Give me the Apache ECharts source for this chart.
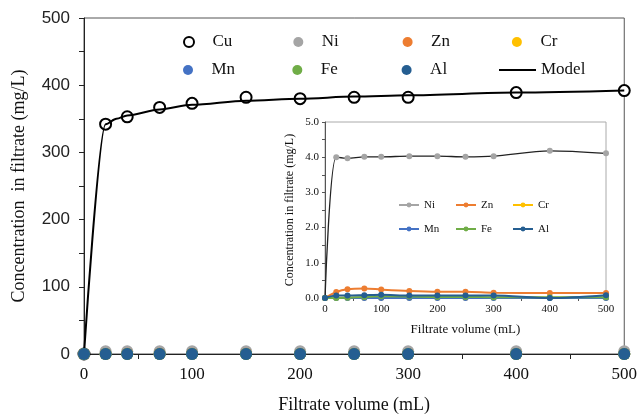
<!DOCTYPE html>
<html>
<head>
<meta charset="utf-8">
<script src="https://cdn.jsdelivr.net/npm/echarts@6/dist/echarts.min.js"></script>
<style>
html,body{margin:0;padding:0;background:#fff;}
#chart{width:640px;height:419px;}
</style>
</head>
<body>
<div id="chart"></div>
<script>
const volumes = [0, 20, 40, 70, 100, 150, 200, 250, 300, 400, 500];
const cuVals = [0, 342, 353, 367, 373, 382, 380, 382, 382, 389, 392];
const modelVolumes = [0, 20, 30, 40, 70, 100, 150, 200, 250, 300, 400, 500];
const modelVals = [0, 342, 350, 355, 364, 371, 377, 380, 383, 385, 389, 392];
const niVals = [0, 4.00, 3.97, 4.01, 4.01, 4.03, 4.03, 4.01, 4.03, 4.18, 4.11];
const znVals = [0, 0.17, 0.25, 0.27, 0.24, 0.20, 0.18, 0.18, 0.15, 0.14, 0.14];
const crVals = [0, 0.01, 0.01, 0.01, 0.01, 0.01, 0.01, 0.01, 0.01, 0.01, 0.01];
const mnVals = [0, 0.00, 0.00, 0.00, 0.00, 0.00, 0.00, 0.00, 0.00, 0.00, 0.00];
const feVals = [0, 0.00, 0.01, 0.03, 0.05, 0.04, 0.03, 0.03, 0.02, 0.02, 0.02];
const alVals = [0, 0.07, 0.07, 0.08, 0.09, 0.07, 0.07, 0.07, 0.07, 0.00, 0.08];
const metalNames = ['Ni', 'Zn', 'Cr', 'Mn', 'Fe', 'Al'];
const metalColors = ['#A5A5A5', '#ED7D31', '#FFC000', '#4472C4', '#70AD47', '#255E91'];
const metalVals = [niVals, znVals, crVals, mnVals, feVals, alVals];
const mainXTicks = [0, 100, 200, 300, 400, 500];
const mainYTicks = [0, 100, 200, 300, 400, 500];
const insetYTicks = [0, 1, 2, 3, 4, 5];

const SERIF = '"Liberation Serif", "Times New Roman", serif';
const SANS = '"Liberation Sans", Arial, sans-serif';

function pairs(xs, ys) { return xs.map((x, i) => [x, ys[i]]); }

const series = [];
series.push({
  name: 'Cu', type: 'scatter', xAxisIndex: 0, yAxisIndex: 0,
  data: pairs(volumes, cuVals), symbol: 'circle', symbolSize: 11, clip: false,
  itemStyle: { color: '#fff', borderColor: '#000', borderWidth: 2, opacity: 1 }, z: 3
});
series.push({
  name: 'Model', type: 'line', xAxisIndex: 0, yAxisIndex: 0,
  data: pairs(modelVolumes, modelVals), symbol: 'none', smooth: 0.3, smoothMonotone: 'x',
  lineStyle: { color: '#000', width: 2 }, itemStyle: { color: '#000' }, z: 4
});
metalNames.forEach((n, i) => {
  series.push({
    name: n, type: 'scatter', xAxisIndex: 0, yAxisIndex: 0,
    data: pairs(volumes, metalVals[i]), symbol: 'circle', symbolSize: 12, clip: false,
    itemStyle: { color: metalColors[i], opacity: 1 }, z: 5 + i
  });
});
metalNames.forEach((n, i) => {
  series.push({
    name: n + ' inset', type: 'line', xAxisIndex: 1, yAxisIndex: 1,
    data: pairs(volumes, metalVals[i]), symbol: 'circle', symbolSize: 6, showSymbol: true,
    clip: false, smooth: 0.3,
    lineStyle: { color: i === 0 ? '#222' : metalColors[i], width: i === 0 ? 1.3 : 2 },
    itemStyle: { color: metalColors[i] }, z: 20 + i
  });
});

function legendRow(names, top, left, opts) {
  return Object.assign({
    orient: 'horizontal', left: left, top: top,
    data: names, selectedMode: false
  }, opts);
}

const mainLegendOpts = {
  itemWidth: 37, itemHeight: 10, itemGap: 20.8,
  textStyle: { fontFamily: SERIF, fontSize: 17, color: '#111', width: 60, lineHeight: 20 }
};
const insetLegendOpts = {
  itemWidth: 20, itemHeight: 6, itemGap: 7,
  formatter: n => n.split(' ')[0],
  textStyle: { fontFamily: SERIF, fontSize: 11, color: '#111', width: 24, lineHeight: 14 }
};

const option = {
  animation: false,
  backgroundColor: '#fff',
  grid: [
    { left: 84, top: 18, width: 541, height: 338, show: true, borderColor: '#555', borderWidth: 1, backgroundColor: 'transparent' },
    { left: 325, top: 122, width: 281, height: 176, show: true, borderColor: '#aaa', borderWidth: 1, backgroundColor: '#fff', z: 10 }
  ],
  xAxis: [
    {
      type: 'value', gridIndex: 0, min: 0, max: 500, interval: 100,
      name: 'Filtrate volume (mL)', nameLocation: 'middle', nameGap: 42,
      nameTextStyle: { fontFamily: SERIF, fontSize: 18, color: '#111' },
      axisLine: { show: true, lineStyle: { color: '#222', width: 1 } },
      axisTick: { show: true, length: 5, lineStyle: { color: '#222' } },
      minorTick: { show: true, splitNumber: 2, length: 5, lineStyle: { color: '#222' } },
      splitLine: { show: false },
      axisLabel: { fontFamily: SERIF, fontSize: 17, color: '#111', margin: 12,
        formatter: v => mainXTicks.includes(v) ? String(v) : '' }
    },
    {
      type: 'value', gridIndex: 1, min: 0, max: 500, interval: 100,
      name: 'Filtrate volume (mL)', nameLocation: 'middle', nameGap: 25,
      nameTextStyle: { fontFamily: SERIF, fontSize: 13, color: '#111' },
      axisLine: { show: true, lineStyle: { color: '#555', width: 1 } },
      axisTick: { show: true, length: 3, lineStyle: { color: '#555' } },
      minorTick: { show: true, splitNumber: 2, length: 3, lineStyle: { color: '#555' } },
      splitLine: { show: false },
      axisLabel: { fontFamily: SERIF, fontSize: 11, color: '#111', margin: 6 },
      z: 11
    }
  ],
  yAxis: [
    {
      type: 'value', gridIndex: 0, min: 0, max: 500, interval: 100,
      name: 'Concentration  in filtrate (mg/L)', nameLocation: 'middle', nameGap: 56,
      nameTextStyle: { fontFamily: SERIF, fontSize: 18, color: '#111' },
      axisLine: { show: true, lineStyle: { color: '#222', width: 1 } },
      axisTick: { show: true, length: 5, lineStyle: { color: '#222' } },
      minorTick: { show: true, splitNumber: 2, length: 5, lineStyle: { color: '#222' } },
      splitLine: { show: false },
      axisLabel: { fontFamily: SANS, fontSize: 17, color: '#222', margin: 14,
        formatter: v => mainYTicks.includes(v) ? String(v) : '' }
    },
    {
      type: 'value', gridIndex: 1, min: 0, max: 5, interval: 1,
      name: 'Concentration in filtrate (mg/L)', nameLocation: 'middle', nameGap: 29,
      nameTextStyle: { fontFamily: SERIF, fontSize: 12, color: '#111' },
      axisLine: { show: true, lineStyle: { color: '#555', width: 1 } },
      axisTick: { show: true, length: 3, lineStyle: { color: '#555' } },
      minorTick: { show: true, splitNumber: 2, length: 3, lineStyle: { color: '#555' } },
      splitLine: { show: false },
      axisLabel: { fontFamily: SERIF, fontSize: 11, color: '#111', margin: 6,
        formatter: v => insetYTicks.includes(v) ? v.toFixed(1) : '' },
      z: 11
    }
  ],
  legend: [
    legendRow(['Cu', 'Ni', 'Zn', 'Cr'], 27, 178, mainLegendOpts),
    legendRow(['Mn', 'Fe', 'Al'], 55, 178, mainLegendOpts),
    legendRow([{ name: 'Model', itemStyle: { opacity: 0 } }], 55, 493, mainLegendOpts),
    legendRow([
      { name: 'Ni inset', itemStyle: { color: '#A5A5A5' }, lineStyle: { color: '#A5A5A5', width: 2 } },
      'Zn inset', 'Cr inset'], 193, 393, Object.assign({ z: 30 }, insetLegendOpts)),
    legendRow(['Mn inset', 'Fe inset', 'Al inset'], 217, 393, Object.assign({ z: 30 }, insetLegendOpts))
  ],
  series: series
};

const chart = echarts.init(document.getElementById('chart'), null, { renderer: 'canvas' });
chart.setOption(option);
</script>
</body>
</html>
